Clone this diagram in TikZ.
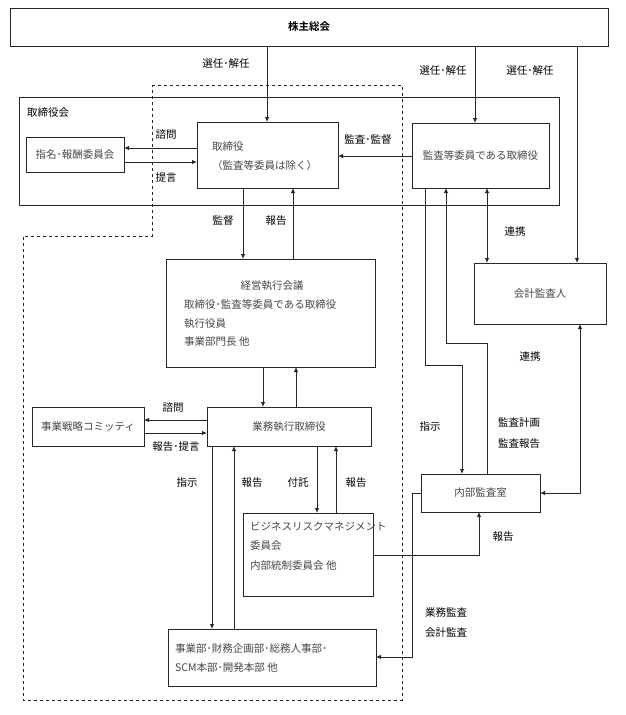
\documentclass[tikz,border=0pt]{standalone}
\usepackage{fontspec}
\setmainfont{Noto Sans CJK JP}[BoldFont={Noto Sans CJK JP Bold}]
\usetikzlibrary{arrows.meta,fit}
\begin{document}
\begin{tikzpicture}[x=1pt,y=-1pt,
  box/.style={draw=black!85,line width=1pt,inner sep=0pt,outer sep=0pt},
  arr/.style={line width=0.9pt,draw=black!85,-{Latex[length=5pt,width=4.5pt]}},
  darr/.style={line width=0.9pt,draw=black!85,{Latex[length=5pt,width=4.5pt]}-{Latex[length=5pt,width=4.5pt]}},
  lbl/.style={font=\fontsize{10.5}{12}\selectfont,inner sep=0pt,text=black},
  txt/.style={font=\fontsize{10.5}{12}\selectfont,inner sep=0pt,text=black!72},
  dashbox/.style={dashed,line width=1pt,draw=black!85}]
\useasboundingbox[fill=white] (0,0) rectangle (625,715);

% dashed region
\draw[dashbox] (152,85) -- (402,85) -- (402,700) -- (23,700) -- (23,236) -- (152,236) -- cycle;

% boxes
\node[box,fit={(10,8)(608,46)}] (soukai) {};
\node[lbl,font=\fontsize{10.5}{12}\selectfont\bfseries] (soukaiT) at (soukai.center) {株主総会};
\node[box,fit={(19,97)(559,205)}] (board) {};
\node[lbl,anchor=west] (boardT) at (27,113) {取締役会};
\node[box,fit={(26,137)(124,172)}] (shimei) {};
\node[txt] (shimeiT) at (shimei.center) {指名･報酬委員会};
\node[box,fit={(197,122)(338,188)}] (tori) {};
\node[txt,anchor=west] (toriT1) at (212,147) {取締役};
\node[txt,anchor=west] (toriT2) at (212,166) {（監査等委員は除く）};
\node[box,fit={(412,123)(549,188)}] (kansa) {};
\node[txt] (kansaT) at (kansa.center) {監査等委員である取締役};
\node[box,fit={(474,263)(606,324)}] (kaikei) {};
\node[txt] (kaikeiT) at (kaikei.center) {会計監査人};
\node[box,fit={(166,259)(375,367)}] (keiei) {};
\node[txt] (keieiT1) at (272,286) {経営執行会議};
\node[txt,anchor=west] (keieiT2) at (184,304) {取締役･監査等委員である取締役};
\node[txt,anchor=west] (keieiT3) at (184,324) {執行役員};
\node[txt,anchor=west] (keieiT4) at (184,342) {事業部門長 他};
\node[box,fit={(32,407)(144,446)}] (senryaku) {};
\node[txt] (senryakuT) at (senryaku.center) {事業戦略コミッティ};
\node[box,fit={(207,407)(371,446)}] (gyomu) {};
\node[txt] (gyomuT) at (gyomu.center) {業務執行取締役};
\node[box,fit={(243,513)(373,596)}] (biz) {};
\node[txt,anchor=west] (bizT1) at (250,526) {ビジネスリスクマネジメント};
\node[txt,anchor=west] (bizT2) at (250,546) {委員会};
\node[txt,anchor=west] (bizT3) at (250,566) {内部統制委員会 他};
\node[box,fit={(421,474)(540,512)}] (naibu) {};
\node[txt] (naibuT) at (naibu.center) {内部監査室};
\node[box,fit={(168,629)(376,686)}] (jigyo) {};
\node[txt,anchor=west] (jigyoT1) at (175,649) {事業部･財務企画部･総務人事部･};
\node[txt,anchor=west] (jigyoT2) at (175,668) {SCM本部･開発本部 他};

% connectors
\draw[arr] (soukai.south -| 267,0) -- (tori.north -| 267,0);
\draw[arr] (soukai.south -| 475,0) -- (kansa.north -| 475,0);
\draw[arr] (soukai.south -| 577,0) -- (kaikei.north -| 577,0);
\draw[arr] (tori.west |- 0,148) -- (shimei.east |- 0,148);
\draw[arr] (shimei.east |- 0,162) -- (tori.west |- 0,162);
\draw[arr] (kansa.west |- 0,156) -- (tori.east |- 0,156);
\draw[arr] (tori.south -| 243,0) -- (keiei.north -| 243,0);
\draw[arr] (keiei.north -| 293,0) -- (tori.south -| 293,0);
\draw[darr] (kansa.south -| 487,0) -- (kaikei.north -| 487,0);
\draw[arr] (kansa.south -| 425,0) |- (462,365) -- (naibu.north -| 462,0);
\draw[arr] (naibu.north -| 487,0) |- (446,343) -- (kansa.south -| 446,0);
\draw[darr] (kaikei.south -| 580,0) |- (naibu.east |- 0,493);
\draw[arr] (keiei.south -| 263,0) -- (gyomu.north -| 263,0);
\draw[arr] (gyomu.north -| 296,0) -- (keiei.south -| 296,0);
\draw[arr] (gyomu.west |- 0,420) -- (senryaku.east |- 0,420);
\draw[arr] (senryaku.east |- 0,433) -- (gyomu.west |- 0,433);
\draw[arr] (gyomu.south -| 212,0) -- (jigyo.north -| 212,0);
\draw[arr] (jigyo.north -| 234,0) -- (gyomu.south -| 234,0);
\draw[arr] (gyomu.south -| 317,0) -- (biz.north -| 317,0);
\draw[arr] (biz.north -| 336,0) -- (gyomu.south -| 336,0);
\draw[arr] (biz.east |- 0,555) -| (naibu.south -| 479,0);
\draw[arr] (naibu.west |- 0,493) -| (412,657) -- (jigyo.east |- 0,657);

% labels
\node[lbl] (l1) at (226,64) {選任･解任};
\node[lbl] (l2) at (443,71) {選任･解任};
\node[lbl] (l3) at (530,71) {選任･解任};
\node[lbl] (l4) at (166,135) {諮問};
\node[lbl] (l5) at (166,178) {提言};
\node[lbl] (l6) at (368,140) {監査･監督};
\node[lbl] (l7) at (223,221) {監督};
\node[lbl] (l8) at (276,221) {報告};
\node[lbl] (l9) at (515,232) {連携};
\node[lbl] (l10) at (530,357) {連携};
\node[lbl] (l11) at (430,427) {指示};
\node[lbl] (l12) at (519,423) {監査計画};
\node[lbl] (l13) at (519,444) {監査報告};
\node[lbl] (l14) at (173,408) {諮問};
\node[lbl] (l15) at (176,447) {報告･提言};
\node[lbl] (l16) at (187,483) {指示};
\node[lbl] (l17) at (252,483) {報告};
\node[lbl] (l18) at (298,483) {付託};
\node[lbl] (l19) at (356,483) {報告};
\node[lbl] (l20) at (503,537) {報告};
\node[lbl] (l21) at (446,612) {業務監査};
\node[lbl] (l22) at (446,633) {会計監査};
\end{tikzpicture}
\end{document}
